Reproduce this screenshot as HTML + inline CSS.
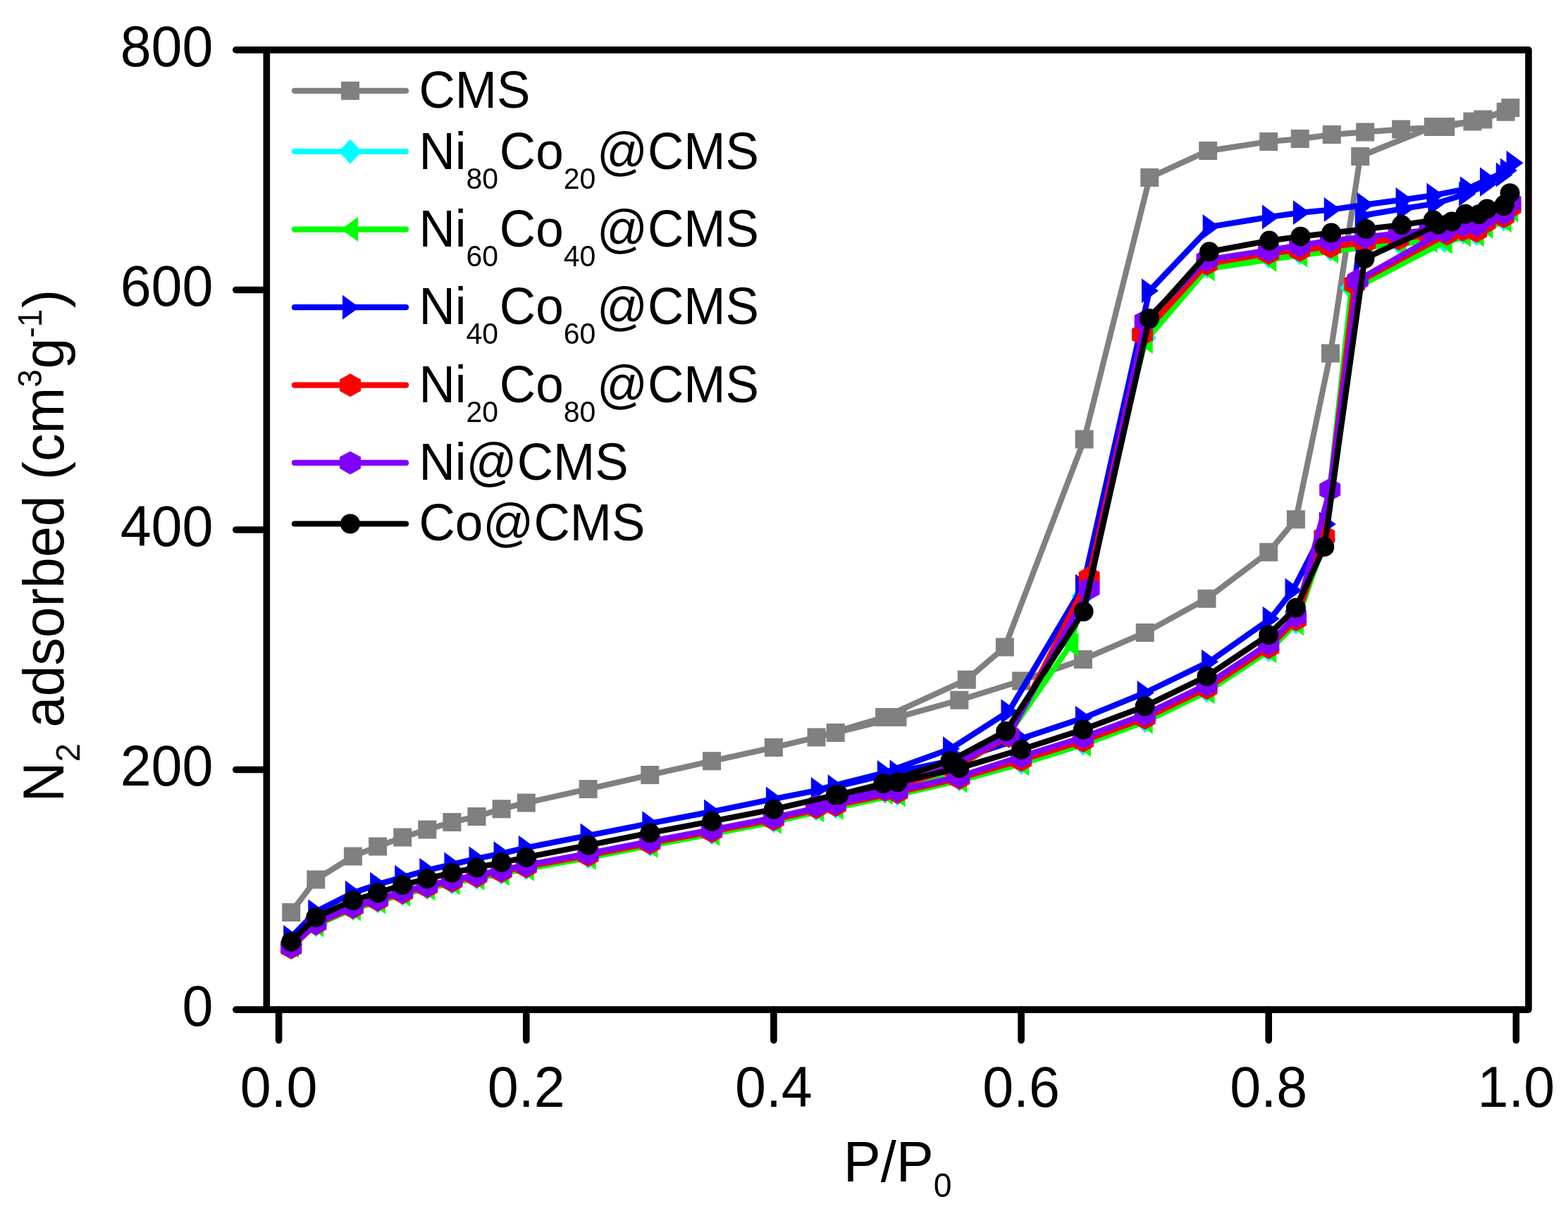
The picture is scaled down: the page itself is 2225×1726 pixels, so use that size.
<!DOCTYPE html>
<html><head><meta charset="utf-8"><title>N2 adsorption isotherms</title>
<style>html,body{margin:0;padding:0;background:#fff;overflow:hidden;}svg{display:block;}</style>
</head><body>
<svg width="2225" height="1726" viewBox="0 0 2225 1726" font-family="'Liberation Sans', Arial, sans-serif" fill="#000">
<g>
<rect width="2225" height="1726" fill="#fff"/>
<path d="M378.3 1433.1V70.9H2169.0V1433.1H378.3" fill="none" stroke="#000" stroke-width="9.6" stroke-linejoin="round"/>
<path d="M334.8 1433.1H378.3" stroke="#000" stroke-width="9.6" stroke-linecap="round"/>
<path d="M334.8 1092.5H378.3" stroke="#000" stroke-width="9.6" stroke-linecap="round"/>
<path d="M334.8 752.0H378.3" stroke="#000" stroke-width="9.6" stroke-linecap="round"/>
<path d="M334.8 411.5H378.3" stroke="#000" stroke-width="9.6" stroke-linecap="round"/>
<path d="M334.8 70.9H378.3" stroke="#000" stroke-width="9.6" stroke-linecap="round"/>
<path d="M395.6 1433.1V1476.6" stroke="#000" stroke-width="9.6" stroke-linecap="round"/>
<path d="M746.8 1433.1V1476.6" stroke="#000" stroke-width="9.6" stroke-linecap="round"/>
<path d="M1097.9 1433.1V1476.6" stroke="#000" stroke-width="9.6" stroke-linecap="round"/>
<path d="M1449.1 1433.1V1476.6" stroke="#000" stroke-width="9.6" stroke-linecap="round"/>
<path d="M1800.2 1433.1V1476.6" stroke="#000" stroke-width="9.6" stroke-linecap="round"/>
<path d="M2151.4 1433.1V1476.6" stroke="#000" stroke-width="9.6" stroke-linecap="round"/>
<path d="M413.2 1295.0 L448.3 1248.4 L500.9 1215.5 L536.1 1201.5 L571.2 1188.6 L606.3 1177.5 L641.4 1167.0 L676.5 1159.1 L711.6 1148.2 L746.8 1139.5 L834.6 1120.0 L922.3 1099.9 L1010.1 1080.3 L1097.9 1060.9 L1185.7 1040.1 L1273.5 1018.1 L1361.3 993.8 L1449.1 966.4 L1536.9 936.1 L1624.7 898.1 L1712.5 849.7 L1800.2 783.7 L1838.9 737.2 L1888.0 501.4 L1930.2 221.9 L2033.8 179.9 L2089.4 172.4 L2136.7 158.8 L2143.3 153.0 L2104.5 169.5 L2051.3 179.9 L1988.1 183.6 L1937.2 187.4 L1889.8 191.1 L1844.8 197.1 L1800.2 201.0 L1714.2 214.1 L1631.3 252.1 L1538.6 623.6 L1425.9 918.5 L1371.8 964.8 L1255.1 1018.1 L1158.5 1046.6" fill="none" stroke="#808080" stroke-width="8.2" stroke-linejoin="round" stroke-linecap="round"/>
<path d="M400.2 1282.0h26.0v26.0h-26.0zM435.3 1235.4h26.0v26.0h-26.0zM487.9 1202.5h26.0v26.0h-26.0zM523.1 1188.5h26.0v26.0h-26.0zM558.2 1175.6h26.0v26.0h-26.0zM593.3 1164.5h26.0v26.0h-26.0zM628.4 1154.0h26.0v26.0h-26.0zM663.5 1146.1h26.0v26.0h-26.0zM698.6 1135.2h26.0v26.0h-26.0zM733.8 1126.5h26.0v26.0h-26.0zM821.6 1107.0h26.0v26.0h-26.0zM909.3 1086.9h26.0v26.0h-26.0zM997.1 1067.3h26.0v26.0h-26.0zM1084.9 1047.9h26.0v26.0h-26.0zM1172.7 1027.1h26.0v26.0h-26.0zM1260.5 1005.1h26.0v26.0h-26.0zM1348.3 980.8h26.0v26.0h-26.0zM1436.1 953.4h26.0v26.0h-26.0zM1523.9 923.1h26.0v26.0h-26.0zM1611.7 885.1h26.0v26.0h-26.0zM1699.5 836.7h26.0v26.0h-26.0zM1787.2 770.7h26.0v26.0h-26.0zM1825.9 724.2h26.0v26.0h-26.0zM1875.0 488.4h26.0v26.0h-26.0zM1917.2 208.9h26.0v26.0h-26.0zM2020.8 166.9h26.0v26.0h-26.0zM2076.4 159.4h26.0v26.0h-26.0zM2123.7 145.8h26.0v26.0h-26.0zM2130.3 140.0h26.0v26.0h-26.0zM2091.5 156.5h26.0v26.0h-26.0zM2038.3 166.9h26.0v26.0h-26.0zM1975.1 170.6h26.0v26.0h-26.0zM1924.2 174.4h26.0v26.0h-26.0zM1876.8 178.1h26.0v26.0h-26.0zM1831.8 184.1h26.0v26.0h-26.0zM1787.2 188.0h26.0v26.0h-26.0zM1701.2 201.1h26.0v26.0h-26.0zM1618.3 239.1h26.0v26.0h-26.0zM1525.6 610.6h26.0v26.0h-26.0zM1412.9 905.5h26.0v26.0h-26.0zM1358.8 951.8h26.0v26.0h-26.0zM1242.1 1005.1h26.0v26.0h-26.0zM1145.5 1033.6h26.0v26.0h-26.0z" fill="#808080"/>
<path d="M413.2 1340.6 L448.3 1312.5 L500.9 1289.5 L536.1 1279.1 L571.2 1268.5 L606.3 1260.0 L641.4 1252.2 L676.5 1245.4 L711.6 1238.6 L746.8 1231.7 L834.6 1215.8 L922.3 1198.5 L1010.1 1181.9 L1097.9 1164.9 L1185.7 1144.8 L1273.5 1126.4 L1361.3 1106.3 L1449.1 1082.3 L1536.9 1055.1 L1624.7 1022.7 L1712.5 980.2 L1800.2 922.3 L1838.9 883.1 L1879.3 765.6 L1917.9 408.7 L2049.6 341.6 L2095.2 331.4 L2133.8 311.0 L2143.5 297.4 L2133.8 304.2 L2107.5 319.5 L2075.9 329.7 L2028.5 338.2 L1984.6 343.3 L1937.2 348.4 L1888.0 353.6 L1844.1 358.7 L1800.2 363.8 L1712.5 378.2 L1624.7 479.6 L1536.9 845.7 L1431.5 1043.2 L1352.5 1092.5 L1255.9 1123.2 L1158.1 1147.9" fill="none" stroke="#00FFFF" stroke-width="8.2" stroke-linejoin="round" stroke-linecap="round"/>
<path d="M413.2 1323.1L429.7 1340.6L413.2 1358.1L396.7 1340.6zM448.3 1295.0L464.8 1312.5L448.3 1330.0L431.8 1312.5zM500.9 1272.0L517.4 1289.5L500.9 1307.0L484.4 1289.5zM536.1 1261.6L552.6 1279.1L536.1 1296.6L519.6 1279.1zM571.2 1251.0L587.7 1268.5L571.2 1286.0L554.7 1268.5zM606.3 1242.5L622.8 1260.0L606.3 1277.5L589.8 1260.0zM641.4 1234.7L657.9 1252.2L641.4 1269.7L624.9 1252.2zM676.5 1227.9L693.0 1245.4L676.5 1262.9L660.0 1245.4zM711.6 1221.1L728.1 1238.6L711.6 1256.1L695.1 1238.6zM746.8 1214.2L763.3 1231.7L746.8 1249.2L730.3 1231.7zM834.6 1198.3L851.1 1215.8L834.6 1233.3L818.1 1215.8zM922.3 1181.0L938.8 1198.5L922.3 1216.0L905.8 1198.5zM1010.1 1164.4L1026.6 1181.9L1010.1 1199.4L993.6 1181.9zM1097.9 1147.4L1114.4 1164.9L1097.9 1182.4L1081.4 1164.9zM1185.7 1127.3L1202.2 1144.8L1185.7 1162.3L1169.2 1144.8zM1273.5 1108.9L1290.0 1126.4L1273.5 1143.9L1257.0 1126.4zM1361.3 1088.8L1377.8 1106.3L1361.3 1123.8L1344.8 1106.3zM1449.1 1064.8L1465.6 1082.3L1449.1 1099.8L1432.6 1082.3zM1536.9 1037.6L1553.4 1055.1L1536.9 1072.6L1520.4 1055.1zM1624.7 1005.2L1641.2 1022.7L1624.7 1040.2L1608.2 1022.7zM1712.5 962.7L1729.0 980.2L1712.5 997.7L1696.0 980.2zM1800.2 904.8L1816.7 922.3L1800.2 939.8L1783.7 922.3zM1838.9 865.6L1855.4 883.1L1838.9 900.6L1822.4 883.1zM1879.3 748.1L1895.8 765.6L1879.3 783.1L1862.8 765.6zM1917.9 391.2L1934.4 408.7L1917.9 426.2L1901.4 408.7zM2049.6 324.1L2066.1 341.6L2049.6 359.1L2033.1 341.6zM2095.2 313.9L2111.7 331.4L2095.2 348.9L2078.7 331.4zM2133.8 293.5L2150.3 311.0L2133.8 328.5L2117.3 311.0zM2143.5 279.9L2160.0 297.4L2143.5 314.9L2127.0 297.4zM2133.8 286.7L2150.3 304.2L2133.8 321.7L2117.3 304.2zM2107.5 302.0L2124.0 319.5L2107.5 337.0L2091.0 319.5zM2075.9 312.2L2092.4 329.7L2075.9 347.2L2059.4 329.7zM2028.5 320.7L2045.0 338.2L2028.5 355.7L2012.0 338.2zM1984.6 325.8L2001.1 343.3L1984.6 360.8L1968.1 343.3zM1937.2 330.9L1953.7 348.4L1937.2 365.9L1920.7 348.4zM1888.0 336.1L1904.5 353.6L1888.0 371.1L1871.5 353.6zM1844.1 341.2L1860.6 358.7L1844.1 376.2L1827.6 358.7zM1800.2 346.3L1816.7 363.8L1800.2 381.3L1783.7 363.8zM1712.5 360.7L1729.0 378.2L1712.5 395.7L1696.0 378.2zM1624.7 462.1L1641.2 479.6L1624.7 497.1L1608.2 479.6zM1536.9 828.2L1553.4 845.7L1536.9 863.2L1520.4 845.7zM1431.5 1025.7L1448.0 1043.2L1431.5 1060.7L1415.0 1043.2zM1352.5 1075.0L1369.0 1092.5L1352.5 1110.0L1336.0 1092.5zM1255.9 1105.7L1272.4 1123.2L1255.9 1140.7L1239.4 1123.2zM1158.1 1130.4L1174.6 1147.9L1158.1 1165.4L1141.6 1147.9z" fill="#00FFFF"/>
<path d="M413.2 1342.2 L448.3 1313.1 L500.9 1290.1 L536.1 1279.9 L571.2 1269.4 L606.3 1261.0 L641.4 1253.3 L676.5 1246.6 L711.6 1239.9 L746.8 1233.2 L834.6 1217.5 L922.3 1200.2 L1010.1 1183.6 L1097.9 1166.6 L1185.7 1146.5 L1273.5 1128.1 L1361.3 1108.0 L1449.1 1084.0 L1536.9 1056.8 L1624.7 1024.4 L1712.5 981.9 L1800.2 924.0 L1838.9 884.8 L1879.3 769.0 L1917.9 411.5 L2049.6 343.3 L2094.7 333.1 L2133.8 312.7 L2143.1 298.6 L2133.8 305.9 L2107.5 321.7 L2075.9 333.1 L2028.5 341.6 L1984.6 346.7 L1937.2 351.0 L1888.0 357.0 L1844.1 362.1 L1800.2 368.4 L1712.5 381.8 L1624.7 484.7 L1519.3 915.0 L1431.5 1041.5 L1352.5 1094.3 L1255.9 1124.9 L1158.1 1149.6" fill="none" stroke="#00FF00" stroke-width="8.2" stroke-linejoin="round" stroke-linecap="round"/>
<path d="M400.2 1342.2L424.2 1324.7L424.2 1359.7zM435.3 1313.1L459.3 1295.6L459.3 1330.6zM487.9 1290.1L511.9 1272.6L511.9 1307.6zM523.1 1279.9L547.1 1262.4L547.1 1297.4zM558.2 1269.4L582.2 1251.9L582.2 1286.9zM593.3 1261.0L617.3 1243.5L617.3 1278.5zM628.4 1253.3L652.4 1235.8L652.4 1270.8zM663.5 1246.6L687.5 1229.1L687.5 1264.1zM698.6 1239.9L722.6 1222.4L722.6 1257.4zM733.8 1233.2L757.8 1215.7L757.8 1250.7zM821.6 1217.5L845.6 1200.0L845.6 1235.0zM909.3 1200.2L933.3 1182.7L933.3 1217.7zM997.1 1183.6L1021.1 1166.1L1021.1 1201.1zM1084.9 1166.6L1108.9 1149.1L1108.9 1184.1zM1172.7 1146.5L1196.7 1129.0L1196.7 1164.0zM1260.5 1128.1L1284.5 1110.6L1284.5 1145.6zM1348.3 1108.0L1372.3 1090.5L1372.3 1125.5zM1436.1 1084.0L1460.1 1066.5L1460.1 1101.5zM1523.9 1056.8L1547.9 1039.3L1547.9 1074.3zM1611.7 1024.4L1635.7 1006.9L1635.7 1041.9zM1699.5 981.9L1723.5 964.4L1723.5 999.4zM1787.2 924.0L1811.2 906.5L1811.2 941.5zM1825.9 884.8L1849.9 867.3L1849.9 902.3zM1866.3 769.0L1890.3 751.5L1890.3 786.5zM1904.9 411.5L1928.9 394.0L1928.9 429.0zM2036.6 343.3L2060.6 325.8L2060.6 360.8zM2081.7 333.1L2105.7 315.6L2105.7 350.6zM2120.8 312.7L2144.8 295.2L2144.8 330.2zM2130.1 298.6L2154.1 281.1L2154.1 316.1zM2120.8 305.9L2144.8 288.4L2144.8 323.4zM2094.5 321.7L2118.5 304.2L2118.5 339.2zM2062.9 333.1L2086.9 315.6L2086.9 350.6zM2015.5 341.6L2039.5 324.1L2039.5 359.1zM1971.6 346.7L1995.6 329.2L1995.6 364.2zM1924.2 351.0L1948.2 333.5L1948.2 368.5zM1875.0 357.0L1899.0 339.5L1899.0 374.5zM1831.1 362.1L1855.1 344.6L1855.1 379.6zM1787.2 368.4L1811.2 350.9L1811.2 385.9zM1699.5 381.8L1723.5 364.3L1723.5 399.3zM1611.7 484.7L1635.7 467.2L1635.7 502.2zM1506.3 915.0L1530.3 897.5L1530.3 932.5zM1418.5 1041.5L1442.5 1024.0L1442.5 1059.0zM1339.5 1094.3L1363.5 1076.8L1363.5 1111.8zM1242.9 1124.9L1266.9 1107.4L1266.9 1142.4zM1145.1 1149.6L1169.1 1132.1L1169.1 1167.1z" fill="#00FF00"/>
<path d="M413.2 1330.4 L448.3 1294.0 L500.9 1267.3 L536.1 1255.3 L571.2 1245.3 L606.3 1235.2 L641.4 1227.1 L676.5 1218.7 L711.6 1211.6 L746.8 1203.2 L834.6 1186.0 L922.3 1168.7 L1010.1 1152.1 L1097.9 1134.1 L1185.7 1116.7 L1273.5 1095.8 L1361.3 1077.2 L1449.1 1048.3 L1536.9 1019.2 L1624.7 983.4 L1716.0 939.3 L1802.7 878.3 L1834.5 838.0 L1882.8 744.0 L1933.7 305.9 L1993.4 295.7 L2037.3 288.9 L2081.2 275.2 L2111.0 261.6 L2133.8 248.0 L2148.6 231.3 L2140.0 242.0 L2111.0 254.8 L2082.9 267.7 L2035.5 277.1 L1991.6 283.4 L1936.7 290.6 L1889.8 297.5 L1845.9 301.8 L1802.0 307.9 L1717.7 321.7 L1631.0 412.8 L1536.9 832.2 L1431.5 1009.8 L1349.0 1062.8 L1255.9 1096.6 L1161.8 1120.5" fill="none" stroke="#0000FF" stroke-width="8.2" stroke-linejoin="round" stroke-linecap="round"/>
<path d="M426.2 1330.4L402.2 1312.9L402.2 1347.9zM461.3 1294.0L437.3 1276.5L437.3 1311.5zM513.9 1267.3L489.9 1249.8L489.9 1284.8zM549.1 1255.3L525.1 1237.8L525.1 1272.8zM584.2 1245.3L560.2 1227.8L560.2 1262.8zM619.3 1235.2L595.3 1217.7L595.3 1252.7zM654.4 1227.1L630.4 1209.6L630.4 1244.6zM689.5 1218.7L665.5 1201.2L665.5 1236.2zM724.6 1211.6L700.6 1194.1L700.6 1229.1zM759.8 1203.2L735.8 1185.7L735.8 1220.7zM847.6 1186.0L823.6 1168.5L823.6 1203.5zM935.3 1168.7L911.3 1151.2L911.3 1186.2zM1023.1 1152.1L999.1 1134.6L999.1 1169.6zM1110.9 1134.1L1086.9 1116.6L1086.9 1151.6zM1198.7 1116.7L1174.7 1099.2L1174.7 1134.2zM1286.5 1095.8L1262.5 1078.3L1262.5 1113.3zM1374.3 1077.2L1350.3 1059.7L1350.3 1094.7zM1462.1 1048.3L1438.1 1030.8L1438.1 1065.8zM1549.9 1019.2L1525.9 1001.7L1525.9 1036.7zM1637.7 983.4L1613.7 965.9L1613.7 1000.9zM1729.0 939.3L1705.0 921.8L1705.0 956.8zM1815.7 878.3L1791.7 860.8L1791.7 895.8zM1847.5 838.0L1823.5 820.5L1823.5 855.5zM1895.8 744.0L1871.8 726.5L1871.8 761.5zM1946.7 305.9L1922.7 288.4L1922.7 323.4zM2006.4 295.7L1982.4 278.2L1982.4 313.2zM2050.3 288.9L2026.3 271.4L2026.3 306.4zM2094.2 275.2L2070.2 257.7L2070.2 292.7zM2124.0 261.6L2100.0 244.1L2100.0 279.1zM2146.8 248.0L2122.8 230.5L2122.8 265.5zM2161.6 231.3L2137.6 213.8L2137.6 248.8zM2153.0 242.0L2129.0 224.5L2129.0 259.5zM2124.0 254.8L2100.0 237.3L2100.0 272.3zM2095.9 267.7L2071.9 250.2L2071.9 285.2zM2048.5 277.1L2024.5 259.6L2024.5 294.6zM2004.6 283.4L1980.6 265.9L1980.6 300.9zM1949.7 290.6L1925.7 273.1L1925.7 308.1zM1902.8 297.5L1878.8 280.0L1878.8 315.0zM1858.9 301.8L1834.9 284.3L1834.9 319.3zM1815.0 307.9L1791.0 290.4L1791.0 325.4zM1730.7 321.7L1706.7 304.2L1706.7 339.2zM1644.0 412.8L1620.0 395.3L1620.0 430.3zM1549.9 832.2L1525.9 814.7L1525.9 849.7zM1444.5 1009.8L1420.5 992.3L1420.5 1027.3zM1362.0 1062.8L1338.0 1045.3L1338.0 1080.3zM1268.9 1096.6L1244.9 1079.1L1244.9 1114.1zM1174.8 1120.5L1150.8 1103.0L1150.8 1138.0z" fill="#0000FF"/>
<path d="M413.2 1345.2 L448.3 1311.4 L500.9 1288.2 L536.1 1277.8 L571.2 1267.2 L606.3 1258.6 L641.4 1250.7 L676.5 1243.9 L711.6 1237.0 L746.8 1230.2 L834.6 1214.1 L922.3 1196.8 L1010.1 1180.2 L1097.9 1163.2 L1185.7 1143.1 L1273.5 1124.7 L1361.3 1104.6 L1449.1 1078.9 L1536.9 1051.7 L1624.7 1019.3 L1712.5 976.8 L1800.2 918.9 L1838.9 879.7 L1879.3 761.5 L1922.3 402.9 L2053.1 332.3 L2095.2 328.0 L2133.8 307.6 L2143.5 294.0 L2133.8 302.5 L2107.5 316.1 L2075.9 326.3 L2028.5 333.1 L1984.6 339.1 L1937.2 344.2 L1888.0 350.2 L1844.1 355.3 L1800.2 359.5 L1712.5 374.7 L1621.1 474.8 L1545.6 820.1 L1431.5 1044.9 L1352.5 1090.8 L1255.9 1121.5 L1158.1 1146.2" fill="none" stroke="#FF0000" stroke-width="8.2" stroke-linejoin="round" stroke-linecap="round"/>
<path d="M413.2 1328.7L428.2 1337.0L428.2 1353.5L413.2 1361.7L398.2 1353.5L398.2 1337.0zM448.3 1294.9L463.3 1303.1L463.3 1319.6L448.3 1327.9L433.3 1319.6L433.3 1303.1zM500.9 1271.7L515.9 1280.0L515.9 1296.5L500.9 1304.7L485.9 1296.5L485.9 1280.0zM536.1 1261.3L551.1 1269.5L551.1 1286.0L536.1 1294.3L521.1 1286.0L521.1 1269.5zM571.2 1250.7L586.2 1258.9L586.2 1275.4L571.2 1283.7L556.2 1275.4L556.2 1258.9zM606.3 1242.1L621.3 1250.4L621.3 1266.9L606.3 1275.1L591.3 1266.9L591.3 1250.4zM641.4 1234.2L656.4 1242.5L656.4 1259.0L641.4 1267.2L626.4 1259.0L626.4 1242.5zM676.5 1227.4L691.5 1235.6L691.5 1252.1L676.5 1260.4L661.5 1252.1L661.5 1235.6zM711.6 1220.5L726.6 1228.8L726.6 1245.3L711.6 1253.5L696.6 1245.3L696.6 1228.8zM746.8 1213.7L761.8 1221.9L761.8 1238.4L746.8 1246.7L731.8 1238.4L731.8 1221.9zM834.6 1197.6L849.6 1205.9L849.6 1222.4L834.6 1230.6L819.6 1222.4L819.6 1205.9zM922.3 1180.3L937.3 1188.5L937.3 1205.0L922.3 1213.3L907.3 1205.0L907.3 1188.5zM1010.1 1163.7L1025.1 1172.0L1025.1 1188.5L1010.1 1196.7L995.1 1188.5L995.1 1172.0zM1097.9 1146.7L1112.9 1155.0L1112.9 1171.5L1097.9 1179.7L1082.9 1171.5L1082.9 1155.0zM1185.7 1126.6L1200.7 1134.9L1200.7 1151.4L1185.7 1159.6L1170.7 1151.4L1170.7 1134.9zM1273.5 1108.2L1288.5 1116.5L1288.5 1133.0L1273.5 1141.2L1258.5 1133.0L1258.5 1116.5zM1361.3 1088.1L1376.3 1096.4L1376.3 1112.9L1361.3 1121.1L1346.3 1112.9L1346.3 1096.4zM1449.1 1062.4L1464.1 1070.7L1464.1 1087.2L1449.1 1095.4L1434.1 1087.2L1434.1 1070.7zM1536.9 1035.2L1551.9 1043.4L1551.9 1059.9L1536.9 1068.2L1521.9 1059.9L1521.9 1043.4zM1624.7 1002.8L1639.7 1011.1L1639.7 1027.6L1624.7 1035.8L1609.7 1027.6L1609.7 1011.1zM1712.5 960.3L1727.5 968.5L1727.5 985.0L1712.5 993.3L1697.5 985.0L1697.5 968.5zM1800.2 902.4L1815.2 910.6L1815.2 927.1L1800.2 935.4L1785.2 927.1L1785.2 910.6zM1838.9 863.2L1853.9 871.5L1853.9 888.0L1838.9 896.2L1823.9 888.0L1823.9 871.5zM1879.3 745.0L1894.3 753.3L1894.3 769.8L1879.3 778.0L1864.3 769.8L1864.3 753.3zM1922.3 386.4L1937.3 394.7L1937.3 411.2L1922.3 419.4L1907.3 411.2L1907.3 394.7zM2053.1 315.8L2068.1 324.0L2068.1 340.5L2053.1 348.8L2038.1 340.5L2038.1 324.0zM2095.2 311.5L2110.2 319.8L2110.2 336.3L2095.2 344.5L2080.2 336.3L2080.2 319.8zM2133.8 291.1L2148.8 299.3L2148.8 315.8L2133.8 324.1L2118.8 315.8L2118.8 299.3zM2143.5 277.5L2158.5 285.7L2158.5 302.2L2143.5 310.5L2128.5 302.2L2128.5 285.7zM2133.8 286.0L2148.8 294.2L2148.8 310.7L2133.8 319.0L2118.8 310.7L2118.8 294.2zM2107.5 299.6L2122.5 307.8L2122.5 324.3L2107.5 332.6L2092.5 324.3L2092.5 307.8zM2075.9 309.8L2090.9 318.1L2090.9 334.6L2075.9 342.8L2060.9 334.6L2060.9 318.1zM2028.5 316.6L2043.5 324.9L2043.5 341.4L2028.5 349.6L2013.5 341.4L2013.5 324.9zM1984.6 322.6L1999.6 330.8L1999.6 347.3L1984.6 355.6L1969.6 347.3L1969.6 330.8zM1937.2 327.7L1952.2 335.9L1952.2 352.4L1937.2 360.7L1922.2 352.4L1922.2 335.9zM1888.0 333.7L1903.0 341.9L1903.0 358.4L1888.0 366.7L1873.0 358.4L1873.0 341.9zM1844.1 338.8L1859.1 347.0L1859.1 363.5L1844.1 371.8L1829.1 363.5L1829.1 347.0zM1800.2 343.0L1815.2 351.3L1815.2 367.8L1800.2 376.0L1785.2 367.8L1785.2 351.3zM1712.5 358.2L1727.5 366.4L1727.5 382.9L1712.5 391.2L1697.5 382.9L1697.5 366.4zM1621.1 458.3L1636.1 466.5L1636.1 483.0L1621.1 491.3L1606.1 483.0L1606.1 466.5zM1545.6 803.6L1560.6 811.9L1560.6 828.4L1545.6 836.6L1530.6 828.4L1530.6 811.9zM1431.5 1028.4L1446.5 1036.6L1446.5 1053.1L1431.5 1061.4L1416.5 1053.1L1416.5 1036.6zM1352.5 1074.3L1367.5 1082.6L1367.5 1099.1L1352.5 1107.3L1337.5 1099.1L1337.5 1082.6zM1255.9 1105.0L1270.9 1113.2L1270.9 1129.7L1255.9 1138.0L1240.9 1129.7L1240.9 1113.2zM1158.1 1129.7L1173.1 1137.9L1173.1 1154.4L1158.1 1162.7L1143.1 1154.4L1143.1 1137.9z" fill="#FF0000"/>
<path d="M413.2 1344.0 L448.3 1310.2 L500.9 1286.8 L536.1 1276.3 L571.2 1265.5 L606.3 1256.9 L641.4 1248.9 L676.5 1241.9 L711.6 1234.9 L746.8 1227.9 L834.6 1211.6 L922.3 1194.2 L1010.1 1177.7 L1097.9 1160.7 L1185.7 1140.6 L1273.5 1122.2 L1361.3 1102.1 L1449.1 1073.8 L1536.9 1046.6 L1624.7 1014.2 L1712.5 971.7 L1800.2 913.8 L1838.9 874.6 L1887.2 695.0 L1926.7 397.8 L2049.6 328.0 L2095.2 319.5 L2133.8 302.5 L2143.5 287.1 L2133.8 295.7 L2107.5 309.3 L2075.9 319.5 L2028.5 326.3 L1984.6 331.4 L1937.2 336.5 L1888.0 341.6 L1844.1 348.4 L1800.2 355.3 L1712.5 368.9 L1624.7 455.7 L1545.6 835.4 L1431.5 1043.2 L1352.5 1087.4 L1255.9 1119.8 L1158.1 1143.6" fill="none" stroke="#8000FF" stroke-width="8.2" stroke-linejoin="round" stroke-linecap="round"/>
<path d="M413.2 1327.5L428.2 1335.8L428.2 1352.3L413.2 1360.5L398.2 1352.3L398.2 1335.8zM448.3 1293.7L463.3 1301.9L463.3 1318.4L448.3 1326.7L433.3 1318.4L433.3 1301.9zM500.9 1270.3L515.9 1278.6L515.9 1295.1L500.9 1303.3L485.9 1295.1L485.9 1278.6zM536.1 1259.8L551.1 1268.0L551.1 1284.5L536.1 1292.8L521.1 1284.5L521.1 1268.0zM571.2 1249.0L586.2 1257.3L586.2 1273.8L571.2 1282.0L556.2 1273.8L556.2 1257.3zM606.3 1240.4L621.3 1248.6L621.3 1265.1L606.3 1273.4L591.3 1265.1L591.3 1248.6zM641.4 1232.4L656.4 1240.6L656.4 1257.1L641.4 1265.4L626.4 1257.1L626.4 1240.6zM676.5 1225.4L691.5 1233.6L691.5 1250.1L676.5 1258.4L661.5 1250.1L661.5 1233.6zM711.6 1218.4L726.6 1226.6L726.6 1243.1L711.6 1251.4L696.6 1243.1L696.6 1226.6zM746.8 1211.4L761.8 1219.7L761.8 1236.2L746.8 1244.4L731.8 1236.2L731.8 1219.7zM834.6 1195.1L849.6 1203.3L849.6 1219.8L834.6 1228.1L819.6 1219.8L819.6 1203.3zM922.3 1177.7L937.3 1186.0L937.3 1202.5L922.3 1210.7L907.3 1202.5L907.3 1186.0zM1010.1 1161.2L1025.1 1169.4L1025.1 1185.9L1010.1 1194.2L995.1 1185.9L995.1 1169.4zM1097.9 1144.2L1112.9 1152.4L1112.9 1168.9L1097.9 1177.2L1082.9 1168.9L1082.9 1152.4zM1185.7 1124.1L1200.7 1132.3L1200.7 1148.8L1185.7 1157.1L1170.7 1148.8L1170.7 1132.3zM1273.5 1105.7L1288.5 1113.9L1288.5 1130.4L1273.5 1138.7L1258.5 1130.4L1258.5 1113.9zM1361.3 1085.6L1376.3 1093.8L1376.3 1110.3L1361.3 1118.6L1346.3 1110.3L1346.3 1093.8zM1449.1 1057.3L1464.1 1065.6L1464.1 1082.1L1449.1 1090.3L1434.1 1082.1L1434.1 1065.6zM1536.9 1030.1L1551.9 1038.3L1551.9 1054.8L1536.9 1063.1L1521.9 1054.8L1521.9 1038.3zM1624.7 997.7L1639.7 1006.0L1639.7 1022.5L1624.7 1030.7L1609.7 1022.5L1609.7 1006.0zM1712.5 955.2L1727.5 963.4L1727.5 979.9L1712.5 988.2L1697.5 979.9L1697.5 963.4zM1800.2 897.3L1815.2 905.5L1815.2 922.0L1800.2 930.3L1785.2 922.0L1785.2 905.5zM1838.9 858.1L1853.9 866.3L1853.9 882.8L1838.9 891.1L1823.9 882.8L1823.9 866.3zM1887.2 678.5L1902.2 686.7L1902.2 703.2L1887.2 711.5L1872.2 703.2L1872.2 686.7zM1926.7 381.3L1941.7 389.6L1941.7 406.1L1926.7 414.3L1911.7 406.1L1911.7 389.6zM2049.6 311.5L2064.6 319.8L2064.6 336.3L2049.6 344.5L2034.6 336.3L2034.6 319.8zM2095.2 303.0L2110.2 311.3L2110.2 327.8L2095.2 336.0L2080.2 327.8L2080.2 311.3zM2133.8 286.0L2148.8 294.2L2148.8 310.7L2133.8 319.0L2118.8 310.7L2118.8 294.2zM2143.5 270.6L2158.5 278.9L2158.5 295.4L2143.5 303.6L2128.5 295.4L2128.5 278.9zM2133.8 279.2L2148.8 287.4L2148.8 303.9L2133.8 312.2L2118.8 303.9L2118.8 287.4zM2107.5 292.8L2122.5 301.0L2122.5 317.5L2107.5 325.8L2092.5 317.5L2092.5 301.0zM2075.9 303.0L2090.9 311.3L2090.9 327.8L2075.9 336.0L2060.9 327.8L2060.9 311.3zM2028.5 309.8L2043.5 318.1L2043.5 334.6L2028.5 342.8L2013.5 334.6L2013.5 318.1zM1984.6 314.9L1999.6 323.2L1999.6 339.7L1984.6 347.9L1969.6 339.7L1969.6 323.2zM1937.2 320.0L1952.2 328.3L1952.2 344.8L1937.2 353.0L1922.2 344.8L1922.2 328.3zM1888.0 325.1L1903.0 333.4L1903.0 349.9L1888.0 358.1L1873.0 349.9L1873.0 333.4zM1844.1 331.9L1859.1 340.2L1859.1 356.7L1844.1 364.9L1829.1 356.7L1829.1 340.2zM1800.2 338.8L1815.2 347.0L1815.2 363.5L1800.2 371.8L1785.2 363.5L1785.2 347.0zM1712.5 352.4L1727.5 360.6L1727.5 377.1L1712.5 385.4L1697.5 377.1L1697.5 360.6zM1624.7 439.2L1639.7 447.5L1639.7 464.0L1624.7 472.2L1609.7 464.0L1609.7 447.5zM1545.6 818.9L1560.6 827.2L1560.6 843.7L1545.6 851.9L1530.6 843.7L1530.6 827.2zM1431.5 1026.7L1446.5 1034.9L1446.5 1051.4L1431.5 1059.7L1416.5 1051.4L1416.5 1034.9zM1352.5 1070.9L1367.5 1079.2L1367.5 1095.7L1352.5 1103.9L1337.5 1095.7L1337.5 1079.2zM1255.9 1103.3L1270.9 1111.5L1270.9 1128.0L1255.9 1136.3L1240.9 1128.0L1240.9 1111.5zM1158.1 1127.1L1173.1 1135.4L1173.1 1151.9L1158.1 1160.1L1143.1 1151.9L1143.1 1135.4z" fill="#8000FF"/>
<path d="M413.2 1336.7 L448.3 1302.0 L500.9 1278.1 L536.1 1267.3 L571.2 1256.2 L606.3 1247.2 L641.4 1238.8 L676.5 1231.5 L711.6 1224.2 L746.8 1216.9 L834.6 1199.7 L922.3 1182.3 L1010.1 1165.8 L1097.9 1148.7 L1185.7 1128.6 L1273.5 1110.3 L1361.3 1090.2 L1449.1 1063.9 L1536.9 1035.5 L1624.7 1002.5 L1712.5 959.9 L1800.2 901.2 L1838.9 862.8 L1879.3 776.2 L1936.5 367.0 L2040.8 318.7 L2060.1 314.4 L2098.7 304.2 L2133.8 292.3 L2142.6 274.2 L2134.9 290.6 L2110.1 296.5 L2079.4 303.8 L2033.8 312.5 L1989.0 319.3 L1938.2 325.0 L1889.1 330.6 L1845.5 335.7 L1801.1 341.6 L1716.0 357.3 L1631.0 452.0 L1537.6 868.0 L1427.3 1037.9 L1348.5 1079.9 L1253.3 1112.1 L1190.1 1128.3" fill="none" stroke="#000000" stroke-width="8.2" stroke-linejoin="round" stroke-linecap="round"/>
<path d="M399.2 1336.7a14.0 14.0 0 1 0 28.0 0a14.0 14.0 0 1 0 -28.0 0zM434.3 1302.0a14.0 14.0 0 1 0 28.0 0a14.0 14.0 0 1 0 -28.0 0zM486.9 1278.1a14.0 14.0 0 1 0 28.0 0a14.0 14.0 0 1 0 -28.0 0zM522.1 1267.3a14.0 14.0 0 1 0 28.0 0a14.0 14.0 0 1 0 -28.0 0zM557.2 1256.2a14.0 14.0 0 1 0 28.0 0a14.0 14.0 0 1 0 -28.0 0zM592.3 1247.2a14.0 14.0 0 1 0 28.0 0a14.0 14.0 0 1 0 -28.0 0zM627.4 1238.8a14.0 14.0 0 1 0 28.0 0a14.0 14.0 0 1 0 -28.0 0zM662.5 1231.5a14.0 14.0 0 1 0 28.0 0a14.0 14.0 0 1 0 -28.0 0zM697.6 1224.2a14.0 14.0 0 1 0 28.0 0a14.0 14.0 0 1 0 -28.0 0zM732.8 1216.9a14.0 14.0 0 1 0 28.0 0a14.0 14.0 0 1 0 -28.0 0zM820.6 1199.7a14.0 14.0 0 1 0 28.0 0a14.0 14.0 0 1 0 -28.0 0zM908.3 1182.3a14.0 14.0 0 1 0 28.0 0a14.0 14.0 0 1 0 -28.0 0zM996.1 1165.8a14.0 14.0 0 1 0 28.0 0a14.0 14.0 0 1 0 -28.0 0zM1083.9 1148.7a14.0 14.0 0 1 0 28.0 0a14.0 14.0 0 1 0 -28.0 0zM1171.7 1128.6a14.0 14.0 0 1 0 28.0 0a14.0 14.0 0 1 0 -28.0 0zM1259.5 1110.3a14.0 14.0 0 1 0 28.0 0a14.0 14.0 0 1 0 -28.0 0zM1347.3 1090.2a14.0 14.0 0 1 0 28.0 0a14.0 14.0 0 1 0 -28.0 0zM1435.1 1063.9a14.0 14.0 0 1 0 28.0 0a14.0 14.0 0 1 0 -28.0 0zM1522.9 1035.5a14.0 14.0 0 1 0 28.0 0a14.0 14.0 0 1 0 -28.0 0zM1610.7 1002.5a14.0 14.0 0 1 0 28.0 0a14.0 14.0 0 1 0 -28.0 0zM1698.5 959.9a14.0 14.0 0 1 0 28.0 0a14.0 14.0 0 1 0 -28.0 0zM1786.2 901.2a14.0 14.0 0 1 0 28.0 0a14.0 14.0 0 1 0 -28.0 0zM1824.9 862.8a14.0 14.0 0 1 0 28.0 0a14.0 14.0 0 1 0 -28.0 0zM1865.3 776.2a14.0 14.0 0 1 0 28.0 0a14.0 14.0 0 1 0 -28.0 0zM1922.5 367.0a14.0 14.0 0 1 0 28.0 0a14.0 14.0 0 1 0 -28.0 0zM2026.8 318.7a14.0 14.0 0 1 0 28.0 0a14.0 14.0 0 1 0 -28.0 0zM2046.1 314.4a14.0 14.0 0 1 0 28.0 0a14.0 14.0 0 1 0 -28.0 0zM2084.7 304.2a14.0 14.0 0 1 0 28.0 0a14.0 14.0 0 1 0 -28.0 0zM2119.8 292.3a14.0 14.0 0 1 0 28.0 0a14.0 14.0 0 1 0 -28.0 0zM2128.6 274.2a14.0 14.0 0 1 0 28.0 0a14.0 14.0 0 1 0 -28.0 0zM2120.9 290.6a14.0 14.0 0 1 0 28.0 0a14.0 14.0 0 1 0 -28.0 0zM2096.1 296.5a14.0 14.0 0 1 0 28.0 0a14.0 14.0 0 1 0 -28.0 0zM2065.4 303.8a14.0 14.0 0 1 0 28.0 0a14.0 14.0 0 1 0 -28.0 0zM2019.8 312.5a14.0 14.0 0 1 0 28.0 0a14.0 14.0 0 1 0 -28.0 0zM1975.0 319.3a14.0 14.0 0 1 0 28.0 0a14.0 14.0 0 1 0 -28.0 0zM1924.2 325.0a14.0 14.0 0 1 0 28.0 0a14.0 14.0 0 1 0 -28.0 0zM1875.1 330.6a14.0 14.0 0 1 0 28.0 0a14.0 14.0 0 1 0 -28.0 0zM1831.5 335.7a14.0 14.0 0 1 0 28.0 0a14.0 14.0 0 1 0 -28.0 0zM1787.1 341.6a14.0 14.0 0 1 0 28.0 0a14.0 14.0 0 1 0 -28.0 0zM1702.0 357.3a14.0 14.0 0 1 0 28.0 0a14.0 14.0 0 1 0 -28.0 0zM1617.0 452.0a14.0 14.0 0 1 0 28.0 0a14.0 14.0 0 1 0 -28.0 0zM1523.6 868.0a14.0 14.0 0 1 0 28.0 0a14.0 14.0 0 1 0 -28.0 0zM1413.3 1037.9a14.0 14.0 0 1 0 28.0 0a14.0 14.0 0 1 0 -28.0 0zM1334.5 1079.9a14.0 14.0 0 1 0 28.0 0a14.0 14.0 0 1 0 -28.0 0zM1239.3 1112.1a14.0 14.0 0 1 0 28.0 0a14.0 14.0 0 1 0 -28.0 0zM1176.1 1128.3a14.0 14.0 0 1 0 28.0 0a14.0 14.0 0 1 0 -28.0 0z" fill="#000000"/>
<path d="M418 128.8H576" stroke="#808080" stroke-width="8.2" stroke-linecap="round"/>
<path d="M484.0 115.8h26.0v26.0h-26.0z" fill="#808080"/>
<text transform="translate(594.50 153.10) scale(0.964 1)" font-size="73.7"><tspan x="0.00" y="0">CMS</tspan></text>
<path d="M418 215.0H576" stroke="#00FFFF" stroke-width="8.2" stroke-linecap="round"/>
<path d="M497.0 197.5L513.5 215.0L497.0 232.5L480.5 215.0z" fill="#00FFFF"/>
<text transform="translate(594.50 239.50) scale(0.964 1)" font-size="73.7"><tspan x="0.00" y="0">Ni</tspan><tspan x="69.60" y="28" font-size="42.5">80</tspan><tspan x="118.64" y="0">Co</tspan><tspan x="212.85" y="28" font-size="42.5">20</tspan><tspan x="261.89" y="0">@CMS</tspan></text>
<path d="M418 325.6H576" stroke="#00FF00" stroke-width="8.2" stroke-linecap="round"/>
<path d="M484.0 325.6L508.0 308.1L508.0 343.1z" fill="#00FF00"/>
<text transform="translate(594.50 349.60) scale(0.964 1)" font-size="73.7"><tspan x="0.00" y="0">Ni</tspan><tspan x="69.60" y="28" font-size="42.5">60</tspan><tspan x="118.64" y="0">Co</tspan><tspan x="212.85" y="28" font-size="42.5">40</tspan><tspan x="261.89" y="0">@CMS</tspan></text>
<path d="M418 436.2H576" stroke="#0000FF" stroke-width="8.2" stroke-linecap="round"/>
<path d="M510.0 436.2L486.0 418.7L486.0 453.7z" fill="#0000FF"/>
<text transform="translate(594.50 460.20) scale(0.964 1)" font-size="73.7"><tspan x="0.00" y="0">Ni</tspan><tspan x="69.60" y="28" font-size="42.5">40</tspan><tspan x="118.64" y="0">Co</tspan><tspan x="212.85" y="28" font-size="42.5">60</tspan><tspan x="261.89" y="0">@CMS</tspan></text>
<path d="M418 546.7H576" stroke="#FF0000" stroke-width="8.2" stroke-linecap="round"/>
<path d="M497.0 530.2L512.0 538.5L512.0 555.0L497.0 563.2L482.0 555.0L482.0 538.5z" fill="#FF0000"/>
<text transform="translate(594.50 571.30) scale(0.964 1)" font-size="73.7"><tspan x="0.00" y="0">Ni</tspan><tspan x="69.60" y="28" font-size="42.5">20</tspan><tspan x="118.64" y="0">Co</tspan><tspan x="212.85" y="28" font-size="42.5">80</tspan><tspan x="261.89" y="0">@CMS</tspan></text>
<path d="M418 656.9H576" stroke="#8000FF" stroke-width="8.2" stroke-linecap="round"/>
<path d="M497.0 640.4L512.0 648.6L512.0 665.1L497.0 673.4L482.0 665.1L482.0 648.6z" fill="#8000FF"/>
<text transform="translate(594.50 681.30) scale(0.964 1)" font-size="73.7"><tspan x="0.00" y="0">Ni@CMS</tspan></text>
<path d="M418 743.5H576" stroke="#000000" stroke-width="8.2" stroke-linecap="round"/>
<path d="M483.0 743.5a14.0 14.0 0 1 0 28.0 0a14.0 14.0 0 1 0 -28.0 0z" fill="#000000"/>
<text transform="translate(594.50 766.90) scale(0.964 1)" font-size="73.7"><tspan x="0.00" y="0">Co@CMS</tspan></text>
<text transform="translate(302.5 1455.9) scale(0.97 1)" text-anchor="end" font-size="81.5">0</text>
<text transform="translate(302.5 1115.3) scale(0.97 1)" text-anchor="end" font-size="81.5">200</text>
<text transform="translate(302.5 774.8) scale(0.97 1)" text-anchor="end" font-size="81.5">400</text>
<text transform="translate(302.5 434.3) scale(0.97 1)" text-anchor="end" font-size="81.5">600</text>
<text transform="translate(302.5 93.7) scale(0.97 1)" text-anchor="end" font-size="81.5">800</text>
<text transform="translate(395.6 1570.5) scale(0.97 1)" text-anchor="middle" font-size="81.5">0.0</text>
<text transform="translate(746.8 1570.5) scale(0.97 1)" text-anchor="middle" font-size="81.5">0.2</text>
<text transform="translate(1097.9 1570.5) scale(0.97 1)" text-anchor="middle" font-size="81.5">0.4</text>
<text transform="translate(1449.1 1570.5) scale(0.97 1)" text-anchor="middle" font-size="81.5">0.6</text>
<text transform="translate(1800.2 1570.5) scale(0.97 1)" text-anchor="middle" font-size="81.5">0.8</text>
<text transform="translate(2151.4 1570.5) scale(0.97 1)" text-anchor="middle" font-size="81.5">1.0</text>
<text transform="translate(1196.70 1676.70) scale(0.975 1)" font-size="81.5"><tspan x="0.00" y="0">P/P</tspan><tspan x="131.36" y="22.3" font-size="47.5">0</tspan></text>
<text transform="translate(89.70 1138.60) rotate(-90) scale(0.965 1)" font-size="81.8"><tspan x="0.00" y="0">N</tspan><tspan x="59.07" y="23.2" font-size="49">2</tspan><tspan x="87.31" y="0"> adsorbed (cm</tspan><tspan x="610.15" y="-31.2" font-size="47.5">3</tspan><tspan x="637.52" y="0">g</tspan><tspan x="683.01" y="-31.2" font-size="47.5">-1</tspan><tspan x="726.78" y="0">)</tspan></text>
</g>
</svg>
</body></html>
